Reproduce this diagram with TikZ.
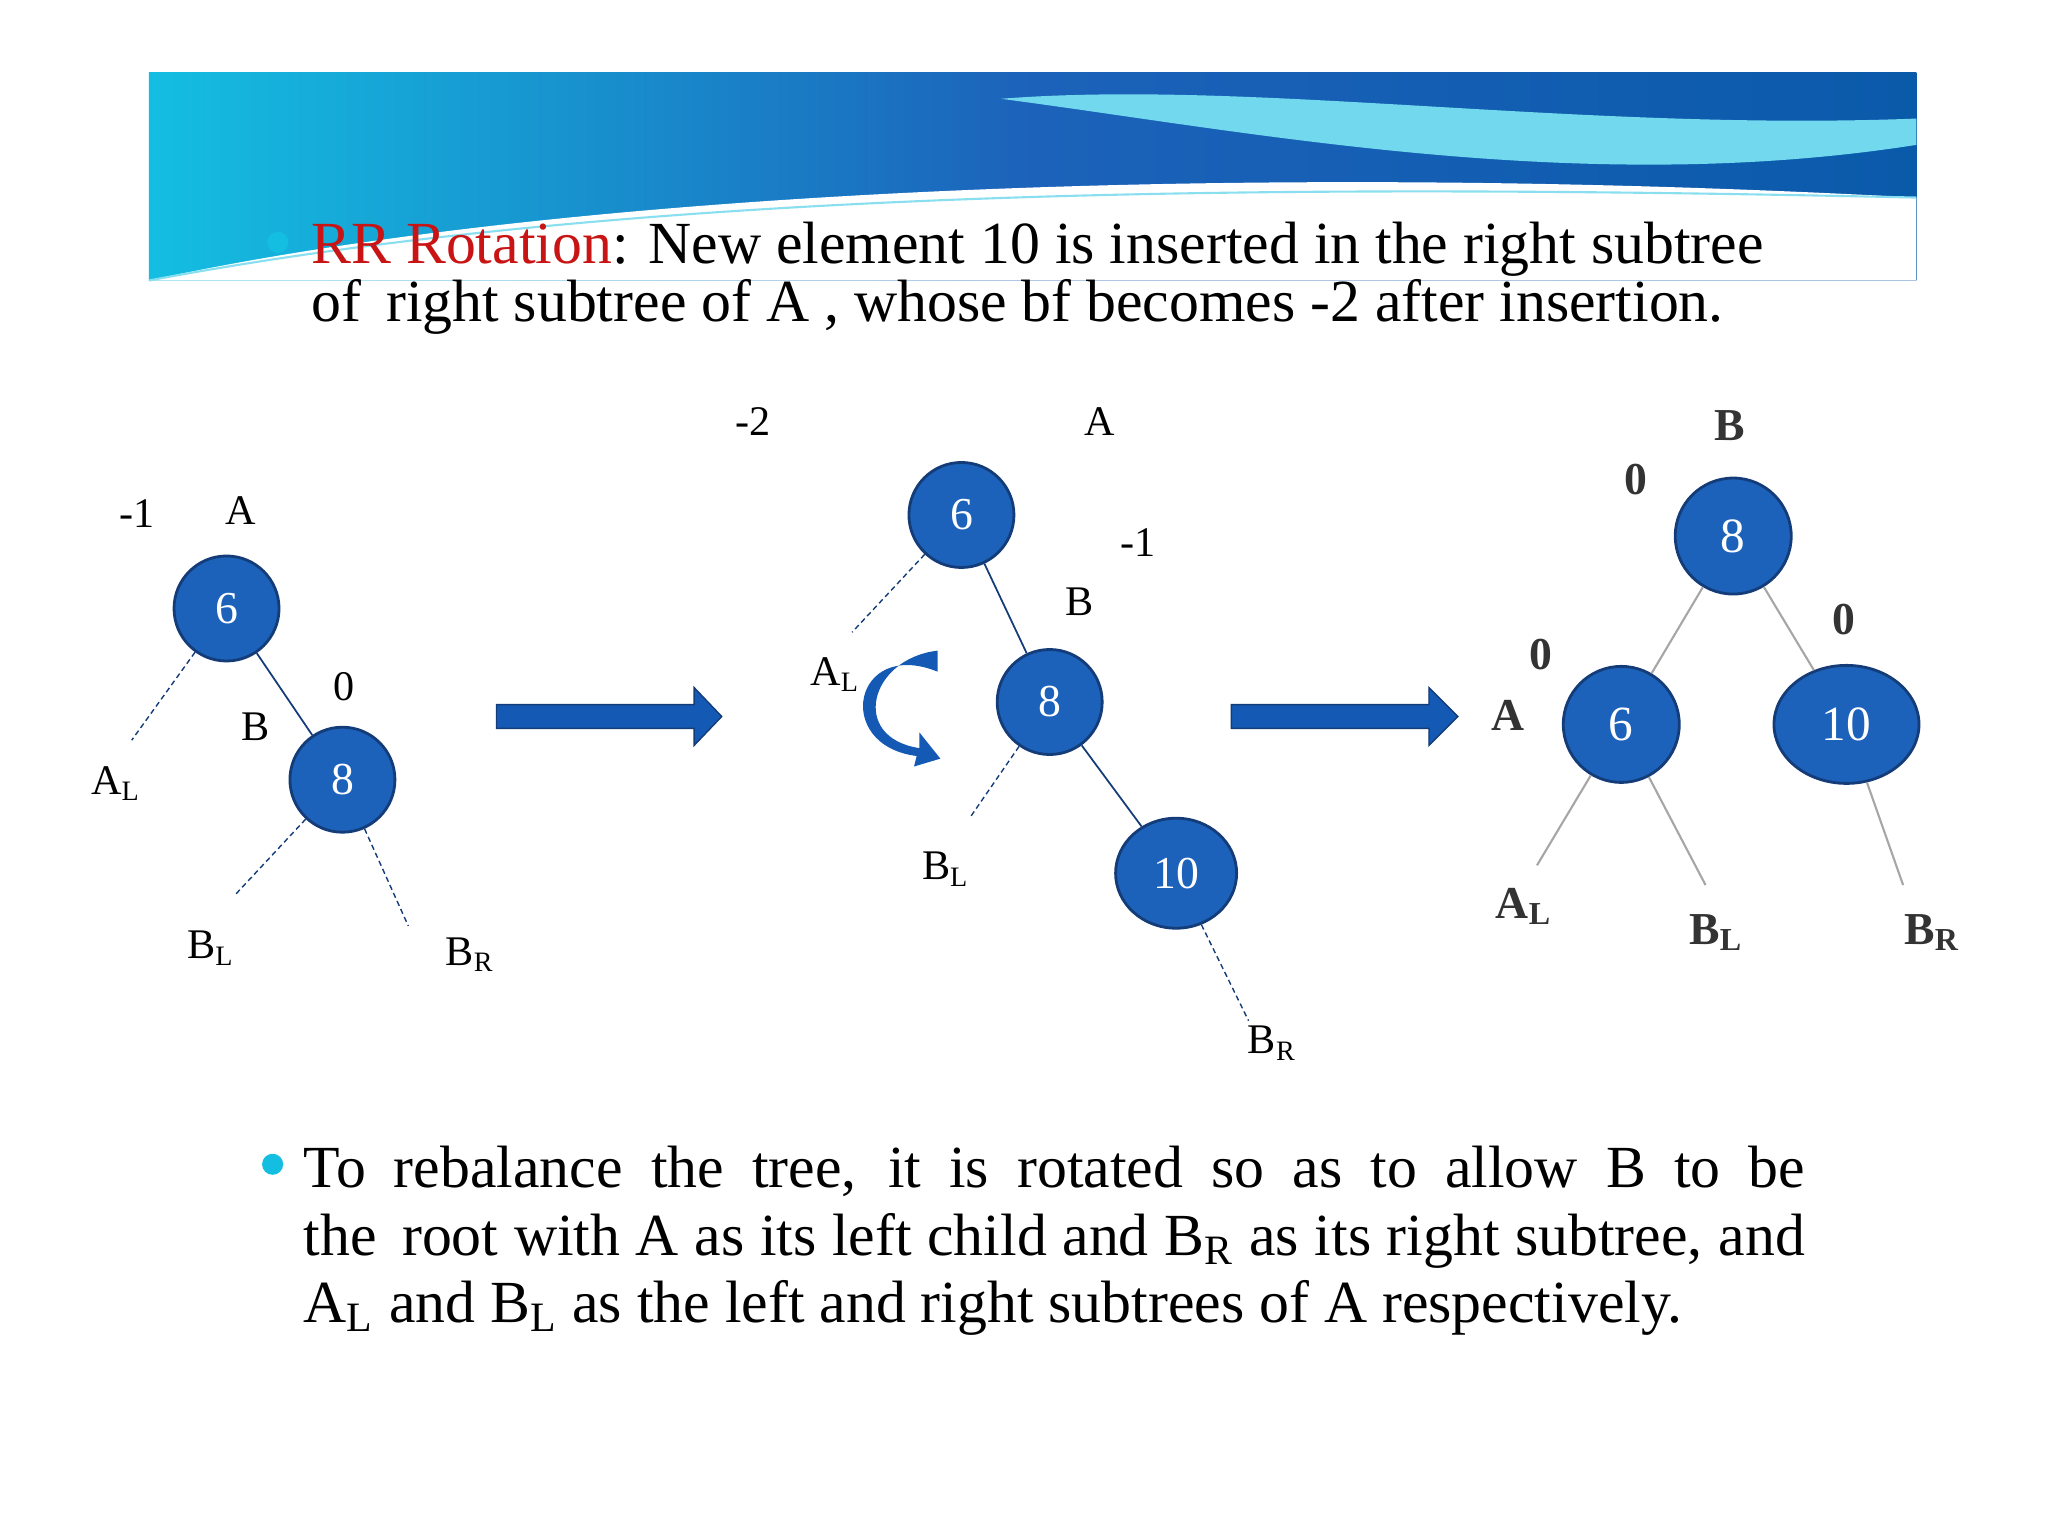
\documentclass[tikz,border=0pt]{standalone}
\usepackage{fontspec}
\setmainfont{Liberation Serif}
\usetikzlibrary{arrows.meta,shapes.geometric}
\definecolor{nodeblue}{RGB}{28,98,186}
\definecolor{nodeedge}{RGB}{20,60,120}
\definecolor{arrblue}{RGB}{20,90,180}
\definecolor{darkb}{RGB}{10,90,170}
\definecolor{cyanb}{RGB}{20,190,225}
\definecolor{rrred}{RGB}{200,20,20}
\tikzset{
  tn/.style={circle,fill=nodeblue,draw=nodeedge,line width=0.8pt,minimum size=1.05cm,inner sep=0pt,text=white,font=\fontsize{13}{15}\selectfont},
  tl/.style={font=\fontsize{12}{14}\selectfont},
  dl/.style={line width=0.4pt,draw=nodeedge,dash pattern=on 1.5pt off 1pt},
  sl/.style={line width=0.5pt,draw=nodeedge},
  gl/.style={line width=0.6pt,draw=gray!70},
  body/.style={font=\fontsize{17}{20}\selectfont,inner sep=0pt}
}
\begin{document}
\begin{tikzpicture}[x=0.01317cm,y=-0.01317cm]
\useasboundingbox (0,0) rectangle (1555,1166);
% banner
\shade[left color=cyanb,right color=darkb,middle color=nodeblue] (113,55) rectangle (1455,213);
\fill[white] (113,213) .. controls (400,150) and (900,120) .. (1455,150) -- (1455,213) -- cycle;
\fill[cyanb!60] (760,75) .. controls (950,60) and (1200,100) .. (1455,90) -- (1455,110) .. controls (1200,150) and (950,100) .. (760,75) -- cycle;
\draw[cyanb!50,line width=0.6pt] (113,213) .. controls (500,140) and (1000,140) .. (1455,150);
% header text
\fill[cyanb] (211,184) circle (8);
\node[body,anchor=base west] (h1) at (236,200) {\textcolor{rrred}{RR Rotation}: New element 10 is inserted in the right subtree};
\node[body,anchor=base west] (h2) at (236,244) {of\, right subtree of A , whose bf becomes -2 after insertion.};
% tree 1
\node[tn] (a1) at (172,462) {6};
\node[tn] (b1) at (260,592) {8};
\draw[sl] (a1) -- (b1);
\coordinate (al1) at (100,562); \coordinate (bl1) at (178,680); \coordinate (br1) at (310,703);
\draw[dl] (a1) -- (al1); \draw[dl] (b1) -- (bl1); \draw[dl] (b1) -- (br1);
\node[tl] at (104,390) {-1}; \node[tl] at (183,388) {A};
\node[tl] at (261,521) {0}; \node[tl] at (194,552) {B};
\node[tl] at (88,595) {A\textsubscript{L}};
\node[tl] at (160,720) {B\textsubscript{L}};
\node[tl] at (357,725) {B\textsubscript{R}};
% arrow 1
\fill[arrblue,draw=nodeedge,line width=0.4pt] (377,535) -- (527,535) -- (527,522) -- (548,544) -- (527,566) -- (527,553) -- (377,553) -- cycle;
% tree 2
\node[tn] (a2) at (730,391) {6};
\node[tn] (b2) at (797,533) {8};
\node[tn,ellipse,minimum width=1.21cm,minimum height=1.1cm] (c2) at (893,663) {10};
\draw[sl] (a2) -- (b2); \draw[sl] (b2) -- (c2);
\coordinate (al2) at (647,480); \coordinate (bl2) at (737,620); \coordinate (br2) at (948,775);
\draw[dl] (a2) -- (al2); \draw[dl] (b2) -- (bl2); \draw[dl] (c2) -- (br2);
\node[tl] at (572,320) {-2}; \node[tl] at (835,320) {A};
\node[tl] at (864,412) {-1}; \node[tl] at (820,457) {B};
\node[tl] at (634,512) {A\textsubscript{L}};
\node[tl] at (718,660) {B\textsubscript{L}};
\node[tl] at (966,792) {B\textsubscript{R}};
\fill[arrblue] (712,494) .. controls (660,500) and (645,560) .. (698,568) -- (698,556) -- (714,576) -- (694,582) -- (696,574) .. controls (632,566) and (648,484) .. (712,510) -- cycle;
% arrow 2
\fill[arrblue,draw=nodeedge,line width=0.4pt] (935,535) -- (1085,535) -- (1085,522) -- (1107,544) -- (1085,566) -- (1085,553) -- (935,553) -- cycle;
% tree 3
\node[tn,minimum size=1.16cm,font=\fontsize{14}{16}\selectfont] (b3) at (1316,407) {8};
\node[tn,minimum size=1.16cm,font=\fontsize{14}{16}\selectfont] (a3) at (1231,550) {6};
\node[tn,ellipse,minimum width=1.45cm,minimum height=1.18cm,font=\fontsize{14}{16}\selectfont] (c3) at (1402,550) {10};
\draw[gl] (b3) -- (a3); \draw[gl] (b3) -- (c3);
\coordinate (al3) at (1167,657); \coordinate (bl3) at (1295,672); \coordinate (br3) at (1445,672);
\draw[gl] (a3) -- (al3); \draw[gl] (a3) -- (bl3); \draw[gl] (c3) -- (br3);
\begin{scope}[every node/.style={tl,font=\fontsize{13}{15}\selectfont\bfseries,text=black!80}]
\node at (1313,323) {B}; \node at (1242,364) {0};
\node at (1400,470) {0}; \node at (1170,497) {0};
\node at (1145,543) {A};
\node at (1157,688) {A\textsubscript{L}};
\node at (1303,708) {B\textsubscript{L}};
\node at (1467,708) {B\textsubscript{R}};
\end{scope}
% bottom paragraph
\fill[cyanb] (207,884) circle (8);
\node[body,anchor=base west] (p1) at (230,902) {\makebox[15.01cm][s]{To rebalance the tree, it is rotated so as to allow B to be}};
\node[body,anchor=base west] (p2) at (230,953) {\makebox[15.01cm][s]{the\, root with A as its left child and B\textsubscript{R} as its right subtree, and}};
\node[body,anchor=base west] (p3) at (230,1004) {A\textsubscript{L} and B\textsubscript{L} as the left and right subtrees of A respectively.};
\end{tikzpicture}
\end{document}
